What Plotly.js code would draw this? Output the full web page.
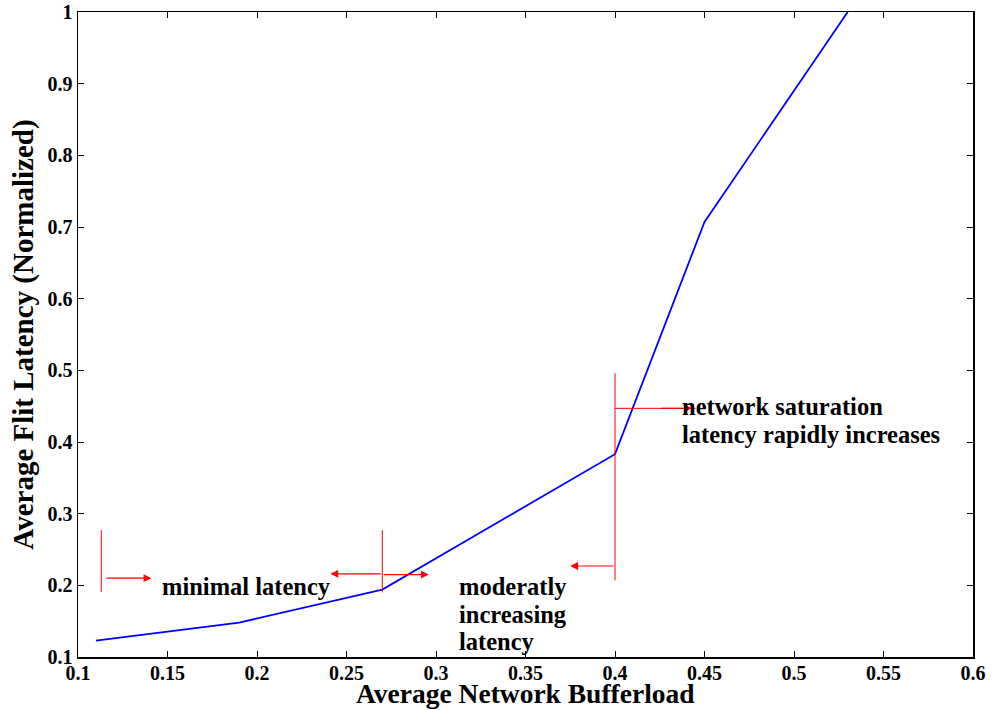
<!DOCTYPE html>
<html><head><meta charset="utf-8">
<script src="https://cdn.plot.ly/plotly-3.0.1.min.js"></script>
<style>html,body{margin:0;padding:0;background:#fff}#c{width:999px;height:710px}</style>
</head><body><div id="c"></div>
<script>
const bufferload = [0.11, 0.19, 0.27, 0.40, 0.45, 0.53];
const latency = [0.123, 0.148, 0.194, 0.383, 0.707, 1.0];
const xTicks = [0.1, 0.15, 0.2, 0.25, 0.3, 0.35, 0.4, 0.45, 0.5, 0.55, 0.6];
const xTickText = ["0.1","0.15","0.2","0.25","0.3","0.35","0.4","0.45","0.5","0.55","0.6"];
const yTicks = [0.1,0.2,0.3,0.4,0.5,0.6,0.7,0.8,0.9,1];
const yTickText = ["0.1","0.2","0.3","0.4","0.5","0.6","0.7","0.8","0.9","1"];
const xTitle = "Average Network Bufferload";
const yTitle = "Average Flit Latency (Normalized)";

const F = "Liberation Serif";
const red = "#ff0000";
function vline(x, y0, y1){return {type:'line', xref:'x', yref:'y', x0:x, x1:x, y0:y0, y1:y1, line:{color:red, width:1}};}
function arrow(xt, xh, y){return {x:xh, y:y, ax:xt, ay:y, xref:'x', yref:'y', axref:'x', ayref:'y', text:'', showarrow:true, arrowhead:2, arrowsize:1.3, arrowwidth:1.2, arrowcolor:red};}
function label(x, y, t){return {x:x, y:y, xref:'x', yref:'y', text:'<b>'+t+'</b>', showarrow:false, xanchor:'left', yanchor:'middle', align:'left', borderpad:0, font:{family:F, size:24.5, color:'#000'}};}

const layout = {
  width:999, height:710,
  margin:{l:78, r:26, t:12, b:53},
  paper_bgcolor:'#fff', plot_bgcolor:'#fff',
  showlegend:false,
  font:{family:F},
  xaxis:{range:[0.1,0.6], tickvals:xTicks, ticktext:xTickText.map(t=>'<b>'+t+'</b>'), ticks:'inside', ticklen:6, tickcolor:'#000', mirror:'allticks', showline:true, linecolor:'#000', linewidth:1.5, showgrid:false, zeroline:false,
    ticklabelstandoff:-3,
    tickfont:{family:F, size:20, color:'#000'}},
  yaxis:{range:[0.1,1], tickvals:yTicks, ticktext:yTickText.map(t=>'<b>'+t+'</b>'), ticks:'inside', ticklen:6, tickcolor:'#000', mirror:'allticks', showline:true, linecolor:'#000', linewidth:1.5, showgrid:false, zeroline:false,
    tickfont:{family:F, size:20, color:'#000'},
    title:{text:'<b>'+yTitle+'</b>', font:{family:F, size:29, color:'#000'}, standoff:5}},
  shapes:[
    vline(0.113, 0.191, 0.277),
    vline(0.27, 0.19, 0.277),
    vline(0.40, 0.207, 0.496),
    {type:'line', xref:'x', yref:'y', x0:0.40, x1:0.445, y0:0.447, y1:0.447, line:{color:red, width:1}}
  ],
  annotations:[
    arrow(0.115, 0.141, 0.21),
    arrow(0.27, 0.241, 0.216),
    arrow(0.27, 0.296, 0.215),
    arrow(0.40, 0.375, 0.227),
    arrow(0.425, 0.443, 0.447),
    label(0.1465, 0.198, 'minimal latency'),
    label(0.3124, 0.1977, 'moderatly'),
    label(0.3124, 0.160, 'increasing'),
    label(0.3124, 0.1223, 'latency'),
    label(0.437, 0.450, 'network saturation'),
    label(0.437, 0.4098, 'latency rapidly increases'),
    {xref:'paper', yref:'paper', x:0.5, y:-0.082, xanchor:'center', yanchor:'bottom', showarrow:false, borderpad:0,
     text:'<b>'+xTitle+'</b>', font:{family:F, size:27.5, color:'#000'}}
  ]
};

Plotly.newPlot('c', [{x:bufferload, y:latency, type:'scatter', mode:'lines', line:{color:'#0000ff', width:1.8}}], layout, {displayModeBar:false, staticPlot:true});
</script></body></html>
